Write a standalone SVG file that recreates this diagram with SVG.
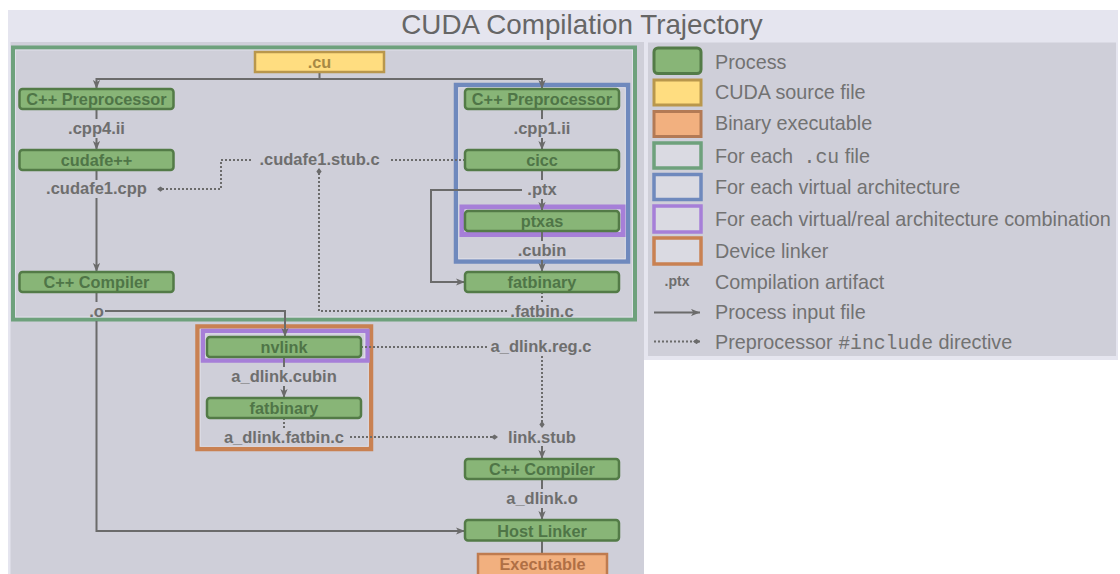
<svg xmlns="http://www.w3.org/2000/svg" width="1120" height="574" viewBox="0 0 1120 574">
<defs>
<style>
.proc rect{fill:#88b577;stroke:#537b47;stroke-width:2.5}
.proc text{font-family:"Liberation Sans",Arial,sans-serif;font-weight:bold;font-size:16.3px;fill:#4f7547;text-anchor:middle}
.art{font-family:"Liberation Sans",Arial,sans-serif;font-weight:bold;font-size:16.5px;fill:#6e6e6e;text-anchor:middle}
.leg{font-family:"Liberation Sans",Arial,sans-serif;font-size:19.8px;fill:#727272}
.mono{font-family:"Liberation Mono","DejaVu Sans Mono",monospace}
.ln{fill:none;stroke:#6b6b6b;stroke-width:2}
.dt{fill:none;stroke:#6b6b6b;stroke-width:2;stroke-dasharray:2 2}
.frame{fill:none}
.inner{fill:none;stroke:#e4e4ec;stroke-width:1;opacity:0.8}
</style>
<marker id="arr" viewBox="0 0 10 8" refX="10" refY="4" markerWidth="9" markerHeight="7.5" markerUnits="userSpaceOnUse" orient="auto"><path d="M0,0 L10,4 L0,8 L2.5,4 z" fill="#6b6b6b"/></marker>
<marker id="dia" viewBox="0 0 8 6" refX="8" refY="3" markerWidth="7" markerHeight="5.5" markerUnits="userSpaceOnUse" orient="auto"><path d="M0,3 L4,0 L8,3 L4,6 z" fill="#6b6b6b"/></marker>
</defs>
<rect width="1120" height="574" fill="#ffffff"/>
<path d="M8,10 H1118 V360 H644 V574 H8 Z" fill="#e5e5ef"/>
<rect x="10.5" y="42" width="633.5" height="532" fill="#cfcfd9"/>
<rect x="648" y="42.5" width="468" height="313.5" fill="#cfcfd9"/>
<text x="582" y="33.5" font-family="Liberation Sans, Arial, sans-serif" font-size="27.8" fill="#666666" text-anchor="middle">CUDA Compilation Trajectory</text>

<g id="frames">
<g id="frame-cu"><rect class="frame" x="13" y="47.5" width="622" height="272" stroke="#6ea17c" stroke-width="4"/><rect class="inner" x="15.5" y="50" width="617" height="267"/></g>
<g id="frame-virtual"><rect class="frame" x="456" y="85" width="172" height="176.5" stroke="#6f89bd" stroke-width="4.5"/><rect class="inner" x="458.7" y="87.7" width="166.6" height="171.1"/></g>
<g id="frame-combo1"><rect class="frame" x="462" y="207" width="161" height="27.5" stroke="#a67fd8" stroke-width="5"/><rect class="inner" x="465" y="210" width="155" height="21.5"/></g>
<g id="frame-devlink"><rect class="frame" x="197.5" y="326.5" width="173.5" height="122.5" stroke="#c98152" stroke-width="4.5"/><rect class="inner" x="200.2" y="329.2" width="168.1" height="117.1"/></g>
<g id="frame-combo2"><rect class="frame" x="203" y="331" width="164.5" height="29.5" stroke="#a67fd8" stroke-width="4.5"/><rect class="inner" x="205.7" y="333.7" width="159.1" height="24.1"/></g>
</g>

<g id="connectors">
<path class="ln" d="M319.5,72 V79 H96.5 V89" marker-end="url(#arr)"/>
<path class="ln" d="M319.5,79 H542 V89" marker-end="url(#arr)"/>
<path class="ln" d="M96.5,109 V119"/>
<path class="ln" d="M96.5,138 V150" marker-end="url(#arr)"/>
<path class="ln" d="M96.5,170 V180"/>
<path class="ln" d="M96.5,198 V272" marker-end="url(#arr)"/>
<path class="ln" d="M96.5,292 V302"/>
<path class="ln" d="M105,311 H285 V337" marker-end="url(#arr)"/>
<path class="ln" d="M96.5,321 V531 H465" marker-end="url(#arr)"/>
<path class="ln" d="M542,109 V119"/>
<path class="ln" d="M542,138 V150" marker-end="url(#arr)"/>
<path class="ln" d="M542,170 V180"/>
<path class="ln" d="M542,199 V211" marker-end="url(#arr)"/>
<path class="ln" d="M522,190 H431 V282 H465" marker-end="url(#arr)"/>
<path class="ln" d="M542,231 V241"/>
<path class="ln" d="M542,260 V272" marker-end="url(#arr)"/>
<path class="ln" d="M284,357 V367"/>
<path class="ln" d="M284,386 V398" marker-end="url(#arr)"/>
<path class="ln" d="M542,446 V459" marker-end="url(#arr)"/>
<path class="ln" d="M542,479 V489"/>
<path class="ln" d="M542,508 V520" marker-end="url(#arr)"/>
<path class="ln" d="M542,541 V554"/>
<path class="dt" d="M465,160 H389"/>
<path class="dt" d="M251,160 H221 V189 H157" marker-end="url(#dia)"/>
<path class="dt" d="M542,292 V303"/>
<path class="dt" d="M507,311 H319 V168" marker-end="url(#dia)"/>
<path class="dt" d="M361,347 H488"/>
<path class="dt" d="M542,356 V428" marker-end="url(#dia)"/>
<path class="dt" d="M284,418 V428"/>
<path class="dt" d="M350,437 H498" marker-end="url(#dia)"/>
</g>

<g id="cu"><rect x="255" y="52" width="129" height="20" fill="#ffdd80" stroke="#b9974c" stroke-width="2.5"/><text x="319.5" y="68" font-family="Liberation Sans, Arial, sans-serif" font-weight="bold" font-size="16.3" fill="#a88a45" text-anchor="middle">.cu</text></g>
<g id="preproc-host" class="proc"><rect x="19.5" y="89" width="154" height="20" rx="3"/><text x="96.5" y="105">C++ Preprocessor</text></g>
<g id="cudafe" class="proc"><rect x="19.5" y="150" width="154" height="20" rx="3"/><text x="96.5" y="166">cudafe++</text></g>
<g id="cxx-host" class="proc"><rect x="19.5" y="272" width="154" height="20" rx="3"/><text x="96.5" y="288">C++ Compiler</text></g>
<g id="preproc-dev" class="proc"><rect x="465" y="89" width="154" height="20" rx="3"/><text x="542" y="105">C++ Preprocessor</text></g>
<g id="cicc" class="proc"><rect x="465" y="150" width="154" height="20" rx="3"/><text x="542" y="166">cicc</text></g>
<g id="ptxas" class="proc"><rect x="465" y="211" width="154" height="20" rx="3"/><text x="542" y="227">ptxas</text></g>
<g id="fatbinary" class="proc"><rect x="465" y="272" width="154" height="20" rx="3"/><text x="542" y="288">fatbinary</text></g>
<g id="nvlink" class="proc"><rect x="207" y="337" width="154" height="20" rx="3"/><text x="284" y="353">nvlink</text></g>
<g id="fatbinary-dl" class="proc"><rect x="207" y="398" width="154" height="20" rx="3"/><text x="284" y="414">fatbinary</text></g>
<g id="cxx-dl" class="proc"><rect x="465" y="459" width="154" height="20" rx="3"/><text x="542" y="475">C++ Compiler</text></g>
<g id="hostlinker" class="proc"><rect x="465" y="520" width="154" height="20.5" rx="3"/><text x="542" y="536.5">Host Linker</text></g>
<g id="executable"><rect x="478" y="554" width="129" height="22" fill="#f2b07f" stroke="#bf7b4f" stroke-width="2.5"/><text x="542.5" y="570" font-family="Liberation Sans, Arial, sans-serif" font-weight="bold" font-size="16.3" fill="#b06f45" text-anchor="middle">Executable</text></g>

<g id="artifacts">
<text class="art" x="96.5" y="134">.cpp4.ii</text>
<text class="art" x="96.5" y="194">.cudafe1.cpp</text>
<text class="art" x="96.5" y="317">.o</text>
<text class="art" x="319.5" y="165">.cudafe1.stub.c</text>
<text class="art" x="542" y="134">.cpp1.ii</text>
<text class="art" x="542" y="195">.ptx</text>
<text class="art" x="542" y="256">.cubin</text>
<text class="art" x="542" y="317">.fatbin.c</text>
<text class="art" x="284" y="382">a_dlink.cubin</text>
<text class="art" x="284" y="443">a_dlink.fatbin.c</text>
<text class="art" x="541" y="352">a_dlink.reg.c</text>
<text class="art" x="542" y="443">link.stub</text>
<text class="art" x="542" y="504">a_dlink.o</text>
</g>

<g id="legend">
<rect x="654" y="48" width="47" height="25.5" rx="4" fill="#88b577" stroke="#537b47" stroke-width="3"/>
<rect x="654" y="80" width="47" height="25" fill="#ffdd80" stroke="#b9974c" stroke-width="3"/>
<rect x="654" y="111.5" width="47" height="25" fill="#f2b07f" stroke="#b37a55" stroke-width="3"/>
<rect x="654" y="143" width="47" height="25" fill="#dadae2" stroke="#6ea17c" stroke-width="3.5"/>
<rect x="654" y="174.5" width="47" height="25" fill="#dadae2" stroke="#6f89bd" stroke-width="3.5"/>
<rect x="654" y="206" width="47" height="26" fill="#dadae2" stroke="#a67fd8" stroke-width="3.5"/>
<rect x="654" y="238" width="47" height="26" fill="#dadae2" stroke="#c98152" stroke-width="3.5"/>
<text x="677" y="286" font-family="Liberation Sans, Arial, sans-serif" font-weight="bold" font-size="14" fill="#6e6e6e" text-anchor="middle">.ptx</text>
<path class="ln" d="M654,312.5 H700" marker-end="url(#arr)"/>
<path class="dt" d="M654,341.5 H700" marker-end="url(#dia)"/>
<text class="leg" x="715" y="68.5">Process</text>
<text class="leg" x="715" y="98.5">CUDA source file</text>
<text class="leg" x="715" y="130">Binary executable</text>
<text class="leg" x="715" y="162.5">For each <tspan class="mono" dx="5">.cu</tspan> file</text>
<text class="leg" x="715" y="193.5">For each virtual architecture</text>
<text class="leg" x="715" y="226">For each virtual/real architecture combination</text>
<text class="leg" x="715" y="257.5">Device linker</text>
<text class="leg" x="715" y="289">Compilation artifact</text>
<text class="leg" x="715" y="318.5">Process input file</text>
<text class="leg" x="715" y="348.5">Preprocessor <tspan class="mono">#include</tspan> directive</text>
</g>
</svg>
